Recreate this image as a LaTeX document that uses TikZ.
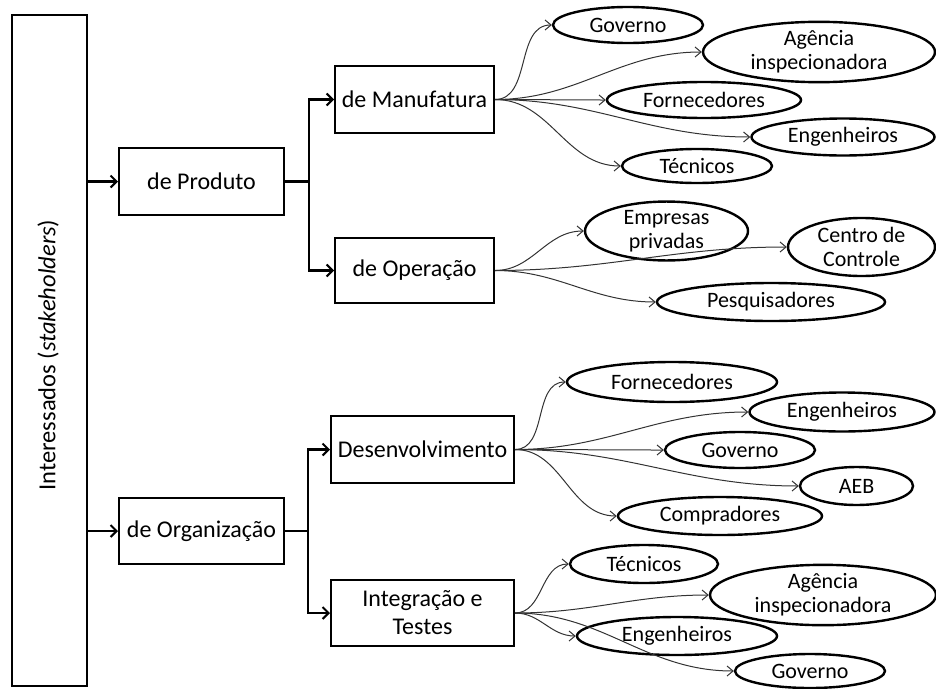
\documentclass[tikz,border=0pt]{standalone}
\usepackage{fontspec}
\setmainfont{Carlito}
\usetikzlibrary{shapes.geometric,arrows.meta}

\tikzset{
  stakebox/.style={draw, line width=2pt, minimum width=75pt, minimum height=671pt, inner sep=0pt},
  catbox/.style={draw, line width=2pt, inner sep=0pt, align=center,
    font=\fontsize{24}{28}\selectfont},
  party/.style={draw, ellipse, line width=2.4pt, inner sep=0pt, align=center,
    font=\fontsize{22}{24}\selectfont},
  trunk/.style={line width=2.5pt},
  branch/.style={line width=2.5pt, -{Straight Barb[length=6pt,width=12pt,line width=2pt]}},
  link/.style={line width=1pt, draw=black!80,
    -{Straight Barb[length=6pt,width=10pt,line width=1pt]}, out=0, in=180}
}

\begin{document}
\begin{tikzpicture}[x=1pt, y=-1pt]
\useasboundingbox (0,0) rectangle (936,688);

% root column
\node[stakebox] (stake) at (49.5,350.5) {};
\node[rotate=90, font=\fontsize{24.5}{28}\selectfont] (stakelbl) at (48,355)
  {Interessados (\textit{stakeholders})};

% category boxes
\node[catbox, minimum width=165pt, minimum height=67pt] (prod) at (201.5,181.5) {de Produto};
\node[catbox, minimum width=165pt, minimum height=66pt] (org)  at (201.5,531) {de Organização};
\node[catbox, minimum width=159pt, minimum height=67pt] (manu) at (414.5,99.5) {de Manufatura};
\node[catbox, minimum width=159pt, minimum height=65pt] (oper) at (414.5,270.5) {de Operação};
\node[catbox, minimum width=183pt, minimum height=67pt] (dev)  at (422.5,449.5) {Desenvolvimento};
\node[catbox, minimum width=183pt, minimum height=66pt] (integ) at (422.5,613) {Integração e\\Testes};

% stakeholder ellipses, product / manufacturing
\node[party, minimum width=150pt, minimum height=36pt] (gov1) at (628,25) {Governo};
\node[party, minimum width=232pt, minimum height=58pt] (age1) at (819,52) {Agência\\inspecionadora};
\node[party, minimum width=194pt, minimum height=36pt] (for1) at (704,100) {Fornecedores};
\node[party, minimum width=183pt, minimum height=37pt] (eng1) at (843,137) {Engenheiros};
\node[party, minimum width=150pt, minimum height=34pt] (tec1) at (697,166) {Técnicos};

% product / operation
\node[party, minimum width=163pt, minimum height=56pt] (emp) at (666.5,231) {Empresas\\privadas};
\node[party, minimum width=147pt, minimum height=58pt] (ctl) at (861.5,247) {Centro de\\Controle};
\node[party, minimum width=228pt, minimum height=38pt] (pes) at (771,302) {Pesquisadores};

% organization / development
\node[party, minimum width=210pt, minimum height=40pt] (for2) at (672,382) {Fornecedores};
\node[party, minimum width=185pt, minimum height=39pt] (eng2) at (842,412) {Engenheiros};
\node[party, minimum width=150pt, minimum height=36pt] (gov2) at (740,450) {Governo};
\node[party, minimum width=113pt, minimum height=38pt] (aeb)  at (856.5,486) {AEB};
\node[party, minimum width=204pt, minimum height=38pt] (comp) at (720,516) {Compradores};

% organization / integration and tests
\node[party, minimum width=148pt, minimum height=38pt] (tec2) at (644,564) {Técnicos};
\node[party, minimum width=226pt, minimum height=60pt] (age2) at (823,595) {Agência\\inspecionadora};
\node[party, minimum width=200pt, minimum height=38pt] (eng3) at (677,636) {Engenheiros};
\node[party, minimum width=150pt, minimum height=34pt] (gov3) at (810,671) {Governo};

% trunk connectors
\coordinate (j1) at (309,181.5);
\coordinate (j2) at (308,531);
\draw[branch] (stake.east |- prod.west) -- (prod.west);
\draw[branch] (stake.east |- org.west) -- (org.west);
\draw[trunk] (prod.east) -- (j1);
\draw[branch] (j1) |- (manu.west);
\draw[branch] (j1) |- (oper.west);
\draw[trunk] (org.east) -- (j2);
\draw[branch] (j2) |- (dev.west);
\draw[branch] (j2) |- (integ.west);

% curved links to stakeholders
\foreach \t in {gov1,age1,for1,eng1,tec1}
  \draw[link] (manu.east) to (\t.west);
\foreach \t in {emp,ctl,pes}
  \draw[link] (oper.east) to (\t.west);
\foreach \t in {for2,eng2,gov2,aeb,comp}
  \draw[link] (dev.east) to (\t.west);
\foreach \t in {tec2,age2,eng3,gov3}
  \draw[link] (integ.east) to (\t.west);
\end{tikzpicture}
\end{document}
